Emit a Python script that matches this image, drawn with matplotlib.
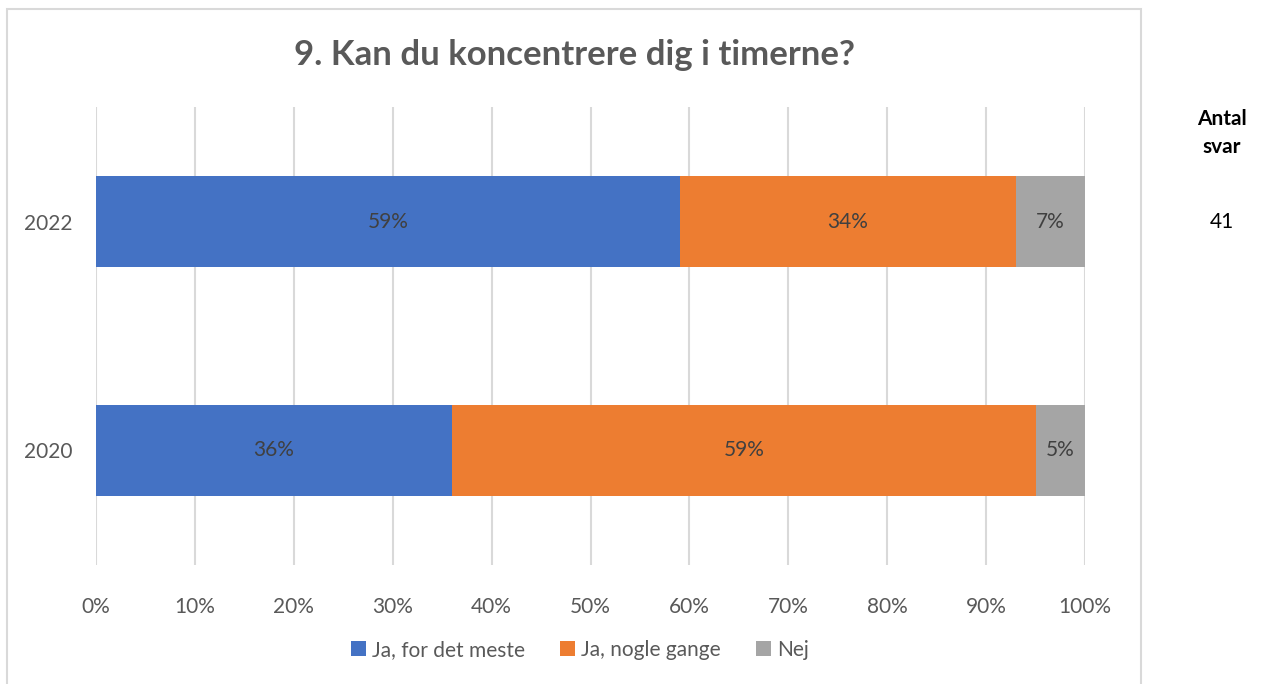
import matplotlib
matplotlib.use("Agg")
import matplotlib.pyplot as plt
from matplotlib.patches import Rectangle
from matplotlib.ticker import FuncFormatter, MultipleLocator

years = ["2020", "2022"]
series_names = ["Ja, for det meste", "Ja, nogle gange", "Nej"]
ja_meste = [36, 59]
ja_nogle = [59, 34]
nej = [5, 7]
antal_svar = ["", "41"]
colors = ["#4472C4", "#ED7D31", "#A5A5A5"]

W, H = 1263, 684
fig = plt.figure(figsize=(W / 100, H / 100), dpi=100)
fig.patch.set_facecolor("white")

fs = "Lato"
plt.rcParams["font.family"] = [fs, "DejaVu Sans"]

# chart frame
fig.add_artist(Rectangle((7 / W, -0.05), (1141 - 7) / W, 1.05 - 9 / H,
                         transform=fig.transFigure, fill=False,
                         edgecolor="#D9D9D9", linewidth=1.5))

ax = fig.add_axes([96 / W, 1 - 565 / H, (1085 - 96) / W, (565 - 107) / H])
y = list(range(len(years)))
left = [0] * len(years)
for vals, name, c in zip([ja_meste, ja_nogle, nej], series_names, colors):
    bars = ax.barh(y, vals, left=left, height=0.4, color=c, label=name, zorder=3)
    for b, v in zip(bars, vals):
        ax.text(b.get_x() + b.get_width() / 2, b.get_y() + b.get_height() / 2,
                f"{v}%", ha="center", va="center", fontsize=15,
                color="#404040", zorder=4)
    left = [l + v for l, v in zip(left, vals)]

ax.set_xlim(0, 100)
ax.set_ylim(-0.5, 1.5)
ax.set_yticks(y)
ax.set_yticklabels(years)
ax.xaxis.set_major_locator(MultipleLocator(10))
ax.xaxis.set_major_formatter(FuncFormatter(lambda v, p: f"{int(v)}%"))
ax.grid(axis="x", color="#D9D9D9", linewidth=1.5, zorder=0)
for s in ax.spines.values():
    s.set_visible(False)
ax.tick_params(axis="both", length=0, labelsize=15, colors="#595959")
ax.tick_params(axis="x", pad=23)
ax.tick_params(axis="y", pad=17)

fig.text(574 / W, 1 - 55 / H, "9. Kan du koncentrere dig i timerne?",
         ha="center", va="center", fontsize=25, fontweight="bold", color="#595959")

fig.text(1222 / W, 1 - 133 / H, "Antal\nsvar", ha="center", va="center",
         fontsize=15, fontweight="bold", color="black", linespacing=1.5)
for yi, a in zip(y, antal_svar):
    if a:
        ypix = ax.transData.transform((0, yi))[1]
        fig.text(1222 / W, ypix / H, a, ha="center", va="center",
                 fontsize=15, color="black")

leg = fig.legend(loc="center", bbox_to_anchor=(580 / W, 1 - 650 / H), ncol=3,
                 frameon=False, fontsize=15, handlelength=0.7, handleheight=0.7,
                 handletextpad=0.3, columnspacing=1.7)
for t in leg.get_texts():
    t.set_color("#595959")

fig.savefig("out.png", dpi=100)
